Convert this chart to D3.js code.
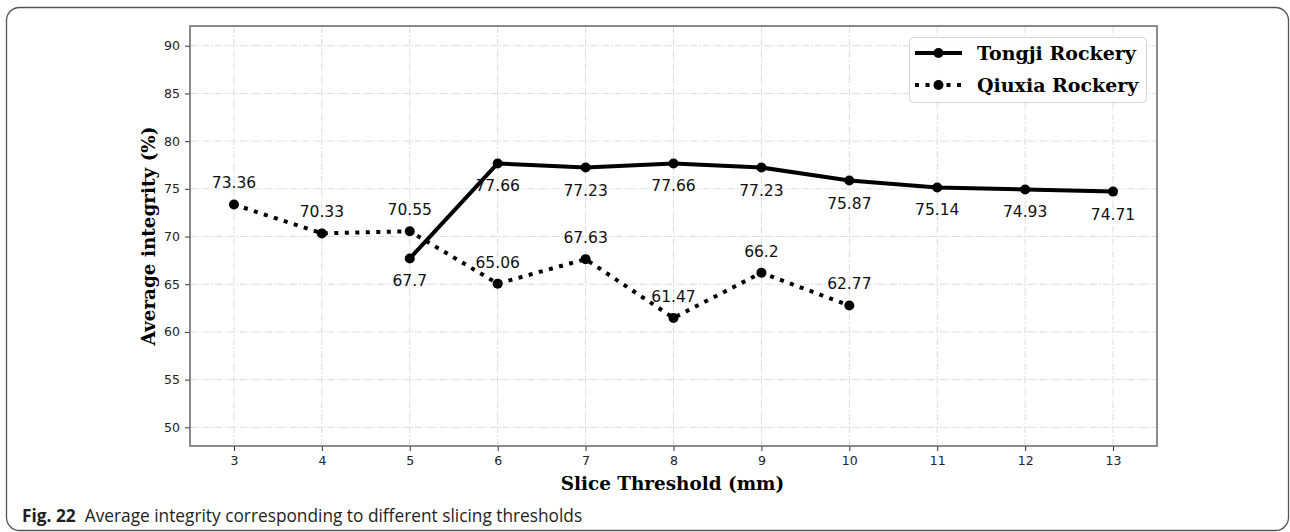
<!DOCTYPE html>
<html>
<head>
<meta charset="utf-8">
<script src="https://cdn.jsdelivr.net/npm/d3@7"></script>
<style>
body { margin: 0; background: #fff; }
svg { display: block; }
</style>
</head>
<body>
<script>
var width = 1290,
    height = 532;

// data
var tongjiX = [5, 6, 7, 8, 9, 10, 11, 12, 13];
var tongjiY = [67.7, 77.66, 77.23, 77.66, 77.23, 75.87, 75.14, 74.93, 74.71];
var qiuxiaX = [3, 4, 5, 6, 7, 8, 9, 10];
var qiuxiaY = [73.36, 70.33, 70.55, 65.06, 67.63, 61.47, 66.2, 62.77];
var xTicks = [3, 4, 5, 6, 7, 8, 9, 10, 11, 12, 13];
var yTicks = [50, 55, 60, 65, 70, 75, 80, 85, 90];
var seriesNames = ["Tongji Rockery", "Qiuxia Rockery"];

var plot = {left: 190, top: 26, right: 1157, bottom: 446};

var svg = d3.select("body").append("svg")
    .attr("width", width)
    .attr("height", height);

// outer frame
svg.append("rect")
    .attr("x", 6.5).attr("y", 7.5)
    .attr("width", 1282).attr("height", 523)
    .attr("rx", 13)
    .attr("fill", "none")
    .attr("stroke", "#555")
    .attr("stroke-width", 1.3);

var x = d3.scaleLinear().domain([2.5, 13.5]).range([plot.left, plot.right]);
var y = d3.scaleLinear().domain([48.04, 92.07]).range([plot.bottom, plot.top]);

// grid
var grid = svg.append("g");
grid.selectAll(".gx").data(xTicks).enter().append("line")
    .attr("x1", function(d) { return x(d); }).attr("x2", function(d) { return x(d); })
    .attr("y1", plot.top).attr("y2", plot.bottom)
    .attr("stroke", "#dcdcdc").attr("stroke-width", 1)
    .attr("stroke-dasharray", "7,2,1.5,2");
grid.selectAll(".gy").data(yTicks).enter().append("line")
    .attr("y1", function(d) { return y(d); }).attr("y2", function(d) { return y(d); })
    .attr("x1", plot.left).attr("x2", plot.right)
    .attr("stroke", "#dcdcdc").attr("stroke-width", 1)
    .attr("stroke-dasharray", "7,2,1.5,2");

// axes
var xAxis = svg.append("g")
    .attr("transform", "translate(0," + plot.bottom + ")")
    .call(d3.axisBottom(x).tickValues(xTicks).tickSize(5).tickPadding(5).tickSizeOuter(0));
var yAxis = svg.append("g")
    .attr("transform", "translate(" + plot.left + ",0)")
    .call(d3.axisLeft(y).tickValues(yTicks).tickSize(5).tickPadding(5).tickSizeOuter(0));

[xAxis, yAxis].forEach(function(a) {
  a.select(".domain").remove();
  a.selectAll(".tick line").attr("stroke", "#333").attr("stroke-width", 1);
  a.selectAll(".tick text")
    .style("font-family", "DejaVu Sans")
    .style("font-size", "12.5px")
    .attr("fill", "#222");
});

// spines
svg.append("rect")
    .attr("x", plot.left).attr("y", plot.top)
    .attr("width", plot.right - plot.left).attr("height", plot.bottom - plot.top)
    .attr("fill", "none")
    .attr("stroke", "#666")
    .attr("stroke-width", 1.5);

var line = d3.line()
    .x(function(d) { return x(d[0]); })
    .y(function(d) { return y(d[1]); });

var tongji = d3.zip(tongjiX, tongjiY);
var qiuxia = d3.zip(qiuxiaX, qiuxiaY);

svg.append("path").datum(qiuxia)
    .attr("d", line)
    .attr("fill", "none")
    .attr("stroke", "#000")
    .attr("stroke-width", 4)
    .attr("stroke-dasharray", "4,6.5");

svg.append("path").datum(tongji)
    .attr("d", line)
    .attr("fill", "none")
    .attr("stroke", "#000")
    .attr("stroke-width", 4)
    .attr("stroke-linejoin", "round");

svg.selectAll(".pt").data(tongji.concat(qiuxia)).enter().append("circle")
    .attr("cx", function(d) { return x(d[0]); })
    .attr("cy", function(d) { return y(d[1]); })
    .attr("r", 5)
    .attr("fill", "#000");

// value labels
svg.selectAll(".lt").data(tongji).enter().append("text")
    .attr("x", function(d) { return x(d[0]); })
    .attr("y", function(d) { return y(d[1]) + 28; })
    .attr("text-anchor", "middle")
    .style("font-family", "DejaVu Sans")
    .style("font-size", "15.5px")
    .attr("fill", "#111")
    .text(function(d) { return d[1]; });

svg.selectAll(".lq").data(qiuxia).enter().append("text")
    .attr("x", function(d) { return x(d[0]); })
    .attr("y", function(d) { return y(d[1]) - 16; })
    .attr("text-anchor", "middle")
    .style("font-family", "DejaVu Sans")
    .style("font-size", "15.5px")
    .attr("fill", "#111")
    .text(function(d) { return d[1]; });

// axis titles
svg.append("text")
    .attr("x", (plot.left + plot.right) / 2 - 1)
    .attr("y", 490)
    .attr("text-anchor", "middle")
    .style("font-family", "DejaVu Serif")
    .style("font-weight", "bold")
    .style("font-size", "18.4px")
    .attr("fill", "#000")
    .text("Slice Threshold (mm)");

svg.append("text")
    .attr("transform", "translate(155," + ((plot.top + plot.bottom) / 2) + ") rotate(-90)")
    .attr("text-anchor", "middle")
    .style("font-family", "DejaVu Serif")
    .style("font-weight", "bold")
    .style("font-size", "18.4px")
    .attr("fill", "#000")
    .text("Average integrity (%)");

// legend
var legend = svg.append("g");
legend.append("rect")
    .attr("x", 909.5).attr("y", 37.5)
    .attr("width", 237).attr("height", 65)
    .attr("rx", 4)
    .attr("fill", "#fff")
    .attr("fill-opacity", 0.85)
    .attr("stroke", "#d5d5d5");

var rows = legend.selectAll(".row").data(seriesNames).enter().append("g")
    .attr("transform", function(d, i) { return "translate(0," + (53 + i * 32) + ")"; });
rows.append("line")
    .attr("x1", 915).attr("x2", 962)
    .attr("y1", 0).attr("y2", 0)
    .attr("stroke", "#000")
    .attr("stroke-width", 4)
    .attr("stroke-dasharray", function(d, i) { return i ? "4,6.5" : null; });
rows.append("circle")
    .attr("cx", 938.5).attr("cy", 0).attr("r", 5).attr("fill", "#000");
rows.append("text")
    .attr("x", 977).attr("y", 7)
    .style("font-family", "DejaVu Serif")
    .style("font-weight", "bold")
    .style("font-size", "19px")
    .attr("fill", "#000")
    .text(function(d) { return d; });

// caption
var cap = svg.append("text")
    .attr("x", 22).attr("y", 522)
    .style("font-family", "Open Sans")
    .style("font-size", "17.3px")
    .attr("fill", "#231f20");
cap.append("tspan").style("font-weight", "bold").text("Fig. 22");
cap.append("tspan").attr("dx", 9).text("Average integrity corresponding to different slicing thresholds");
</script>
</body>
</html>
